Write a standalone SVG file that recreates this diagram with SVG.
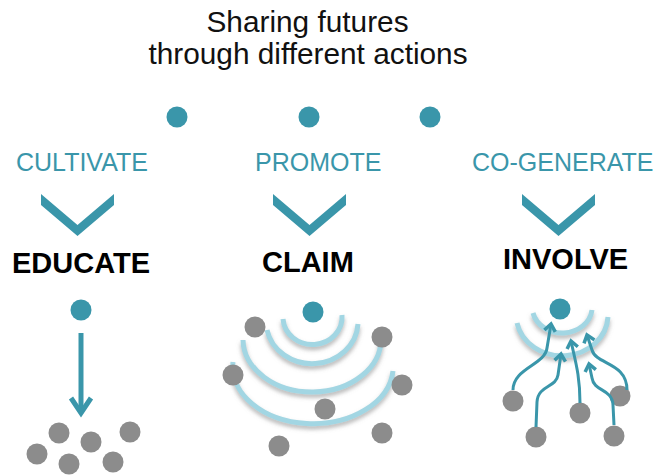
<svg xmlns="http://www.w3.org/2000/svg" width="658" height="475" viewBox="0 0 658 475">
<defs>
<style>
.title{font-family:"Liberation Sans",Arial,sans-serif;font-size:29.8px;fill:#111;text-anchor:middle}
.lab{font-family:"Liberation Sans",Arial,sans-serif;font-size:25px;fill:#3a96aa}
.act{font-family:"Liberation Sans",Arial,sans-serif;font-size:29px;font-weight:bold;fill:#000}
.teal{fill:#3a96aa}
.gray{fill:#8c8c8c}
.chev{fill:#3a96aa}
.wave{fill:none;stroke:#a2d6e3;stroke-width:5;filter:url(#sh)}
.arr{fill:none;stroke:#3a96aa;stroke-width:3;marker-end:url(#ah)}
</style>
<filter id="sh" x="-20%" y="-20%" width="140%" height="160%">
<feDropShadow dx="0" dy="3" stdDeviation="2" flood-color="#777" flood-opacity="0.55"/>
</filter>
<marker id="ah" markerUnits="userSpaceOnUse" markerWidth="16" markerHeight="16" viewBox="-10 -8 16 16" refX="0" refY="0" orient="auto">
<path d="M-7,-5.5 L0,0 L-7,5.5" fill="none" stroke="#3a96aa" stroke-width="3.5"/>
</marker>
</defs>
<rect width="658" height="475" fill="#fff"/>

<g id="title">
<text class="title" x="307.5" y="32">Sharing futures</text>
<text class="title" x="308" y="64">through different actions</text>
</g>

<g id="col-educate">
<circle class="teal" cx="177" cy="117" r="10.5"/>
<text class="lab" x="16" y="171">CULTIVATE</text>
<text class="act" x="12" y="273">EDUCATE</text>
<circle class="teal" cx="81" cy="310" r="10.5"/>
<circle class="gray" cx="59" cy="433" r="10.5"/>
<circle class="gray" cx="91" cy="442" r="10.5"/>
<circle class="gray" cx="130" cy="432" r="10.5"/>
<circle class="gray" cx="37" cy="454" r="10.5"/>
<circle class="gray" cx="69" cy="464" r="10.5"/>
<circle class="gray" cx="113" cy="462" r="10.5"/>
</g>

<g id="col-claim">
<circle class="teal" cx="309" cy="117" r="10.5"/>
<text class="lab" x="255" y="171">PROMOTE</text>
<text class="act" x="262" y="272">CLAIM</text>
<path class="wave" d="M283,319 A29,27 0 0 0 342,315"/>
<path class="wave" d="M267,330 A46,42 0 0 0 358,324"/>
<path class="wave" d="M243,340 A69,53 0 0 0 381,338"/>
<path class="wave" d="M233,362 A80,57 0 0 0 393,371"/>
<circle class="teal" cx="313" cy="312" r="10.5"/>
<circle class="gray" cx="255" cy="327" r="10.5"/>
<circle class="gray" cx="382" cy="337" r="10.5"/>
<circle class="gray" cx="233" cy="375" r="10.5"/>
<circle class="gray" cx="402" cy="385" r="10.5"/>
<circle class="gray" cx="325" cy="409" r="10.5"/>
<circle class="gray" cx="382" cy="433" r="10.5"/>
<circle class="gray" cx="279" cy="446" r="10.5"/>
</g>

<g id="col-involve">
<circle class="teal" cx="430" cy="117" r="10.5"/>
<text class="lab" x="472" y="171">CO-GENERATE</text>
<text class="act" x="503" y="269">INVOLVE</text>
<path class="wave" d="M533,313 A30,26 0 0 0 592,310"/>
<path class="wave" d="M517,323 A46,41 0 0 0 608,317"/>
<circle class="teal" cx="560" cy="309" r="10.5"/>
<circle class="gray" cx="513" cy="401" r="10.5"/>
<circle class="gray" cx="620" cy="396" r="10.5"/>
<circle class="gray" cx="580" cy="413" r="10.5"/>
<circle class="gray" cx="536" cy="437" r="10.5"/>
<circle class="gray" cx="614" cy="436" r="10.5"/>
</g>

<g id="connectors">
<polygon class="chev" points="41,194 77.5,225 114,194 114,205 77.5,236 41,205"/>
<polygon class="chev" points="273,194 309.5,225 346,194 346,205 309.5,236 273,205"/>
<polygon class="chev" points="522,194 558.5,225 595,194 595,205 558.5,236 522,205"/>
<line x1="81" y1="333" x2="81" y2="412" stroke="#3a96aa" stroke-width="5"/>
<polyline points="71,398 81,413 91,398" fill="none" stroke="#3a96aa" stroke-width="5"/>
<path class="arr" d="M513,390 C513,368 545,365 547,348 L551,324"/>
<path class="arr" d="M536,427 L537,402 C538,385 556,388 558,375 L561,354"/>
<path class="arr" d="M580,403 C580,375 575,360 571,341"/>
<path class="arr" d="M614,425 L613,405 C612,388 594,392 592,378 L589,364"/>
<path class="arr" d="M627,390 C627,362 596,365 592,350 L587,335"/>
</g>
</svg>
